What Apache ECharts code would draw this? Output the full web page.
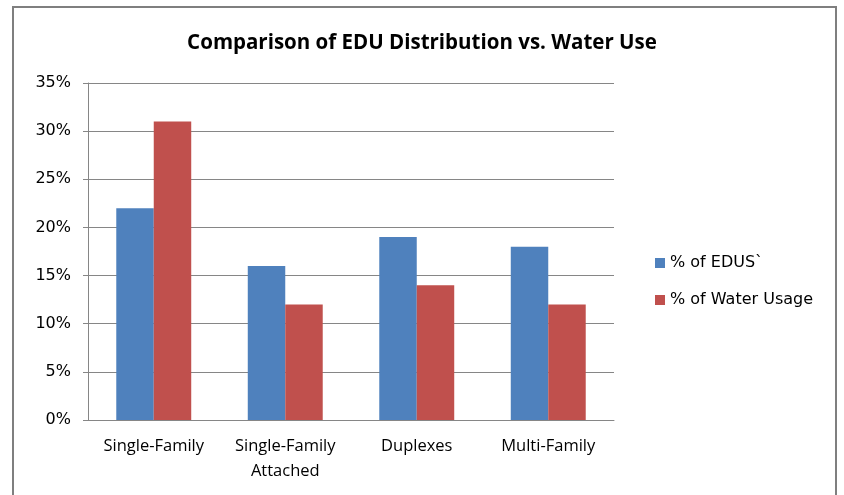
<!DOCTYPE html>
<html>
<head>
<meta charset="utf-8">
<script src="https://cdn.jsdelivr.net/npm/echarts@6/dist/echarts.min.js"></script>
<style>
  html, body { margin: 0; padding: 0; background: #fff; }
  #wrap { position: relative; width: 844px; height: 495px; overflow: hidden; }
  #frame { position: absolute; left: 12px; top: 6px; width: 825px; height: 520px; border: 2px solid #7f7f7f; box-sizing: border-box; }
  #chart { position: absolute; left: 0; top: 0; width: 844px; height: 495px; }
</style>
</head>
<body>
<div id="wrap">
  <div id="frame"></div>
  <div id="chart"></div>
</div>
<script>
// 数据
var categories = ['Single-Family', 'Single-Family\nAttached', 'Duplexes', 'Multi-Family'];
var eduShare = [22, 16, 19, 18];
var waterShare = [31, 12, 14, 12];
var seriesNames = ['% of EDUS`', '% of Water Usage'];

var chart = echarts.init(document.getElementById('chart'));
var option = {
    animation: false,
    title: {
        text: 'Comparison of EDU Distribution vs. Water Use',
        left: 'center',
        top: 28,
        textStyle: {
            fontFamily: 'Open Sans',
            fontWeight: 'bold',
            fontSize: 20.5,
            color: '#000'
        }
    },
    legend: {
        orient: 'vertical',
        left: 650,
        top: 250,
        itemWidth: 10,
        itemHeight: 10,
        itemGap: 21,
        icon: 'rect',
        textStyle: {
            fontFamily: 'DejaVu Sans',
            fontSize: 16,
            color: '#000'
        },
        data: seriesNames
    },
    grid: {
        left: 88,
        top: 83,
        width: 526,
        height: 337
    },
    xAxis: {
        type: 'category',
        data: categories,
        axisLine: { lineStyle: { color: '#868686', width: 1 } },
        axisTick: { show: false },
        axisLabel: {
            interval: 0,
            hideOverlap: false,
            color: '#000',
            fontFamily: 'Open Sans',
            fontSize: 16.5,
            margin: 14,
            lineHeight: 25
        }
    },
    yAxis: {
        type: 'value',
        min: 0,
        max: 35,
        interval: 5,
        axisLine: { show: true, lineStyle: { color: '#868686', width: 1 } },
        axisTick: { show: true, length: 5, lineStyle: { color: '#868686' } },
        splitLine: { lineStyle: { color: '#868686', width: 1 } },
        axisLabel: {
            formatter: '{value}%',
            color: '#000',
            fontFamily: 'DejaVu Sans',
            fontSize: 16,
            margin: 17
        }
    },
    series: [
        {
            name: seriesNames[0],
            type: 'bar',
            data: eduShare,
            barGap: '0%',
            barCategoryGap: '43%',
            itemStyle: { color: '#4F81BD' }
        },
        {
            name: seriesNames[1],
            type: 'bar',
            data: waterShare,
            itemStyle: { color: '#C0504D' }
        }
    ]
};
chart.setOption(option);
</script>
</body>
</html>
